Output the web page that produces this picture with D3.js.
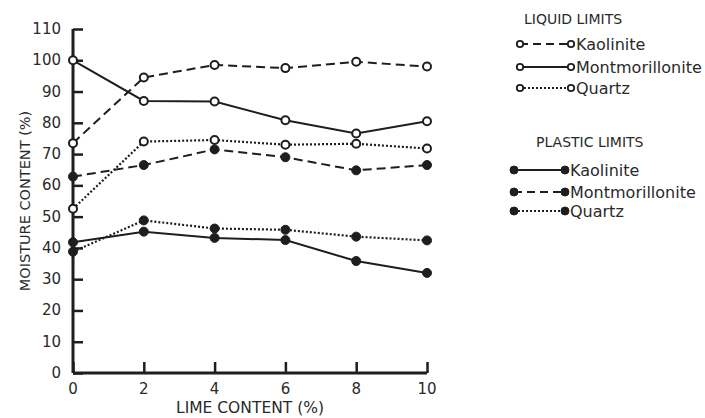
<!DOCTYPE html>
<html lang="en">
  <head>
    <meta charset="UTF-8" />
    <title>Moisture content vs lime content</title>
    <script src="https://d3js.org/d3.v7.min.js"></script>
    <style>
      body { margin: 0; background: #fff; }
      text { font-family: "DejaVu Sans", sans-serif; fill: #2a2a2a; }
    </style>
  </head>
  <body>
    <script>
      const width = 705;
      const height = 418;

      // data
      const limeContent = [0, 2, 4, 6, 8, 10];
      const liquidKaolinite = [73.5, 94.5, 98.5, 97.5, 99.5, 98];
      const liquidMontmorillonite = [100, 87, 86.8, 80.8, 76.6, 80.5];
      const liquidQuartz = [52.5, 74, 74.5, 73, 73.3, 71.8];
      const plasticKaolinite = [41.8, 45.2, 43.2, 42.5, 35.8, 32];
      const plasticMontmorillonite = [62.8, 66.5, 71.5, 69, 64.8, 66.5];
      const plasticQuartz = [38.8, 48.8, 46.2, 45.8, 43.6, 42.4];
      const xTicks = [0, 2, 4, 6, 8, 10];
      const yTicks = [0, 10, 20, 30, 40, 50, 60, 70, 80, 90, 100, 110];

      const series = [
        { name: "Kaolinite", group: "liquid", values: liquidKaolinite, dash: "9,5", filled: false },
        { name: "Montmorillonite", group: "liquid", values: liquidMontmorillonite, dash: null, filled: false },
        { name: "Quartz", group: "liquid", values: liquidQuartz, dash: "2,2", filled: false },
        { name: "Kaolinite", group: "plastic", values: plasticKaolinite, dash: null, filled: true },
        { name: "Montmorillonite", group: "plastic", values: plasticMontmorillonite, dash: "9,5", filled: true },
        { name: "Quartz", group: "plastic", values: plasticQuartz, dash: "2,2", filled: true }
      ];

      const ink = "#1e1e1e";
      const svg = d3.select("body").append("svg")
        .attr("width", width)
        .attr("height", height);

      const x = d3.scaleLinear().domain([0, 10]).range([73, 427]);
      const y = d3.scaleLinear().domain([0, 110]).range([373, 29]);

      // axes
      const g = svg.append("g");
      g.append("g")
        .attr("transform", `translate(0,${y(0)})`)
        .call(d3.axisTop(x).tickValues(xTicks).tickSize(11).tickFormat(""))
        .call(a => a.select(".domain").remove())
        .call(a => a.selectAll("line").attr("stroke", ink).attr("stroke-width", 2.5));
      g.append("g")
        .attr("transform", `translate(${x(0)},0)`)
        .call(d3.axisRight(y).tickValues(yTicks).tickSize(10).tickFormat(""))
        .call(a => a.select(".domain").remove())
        .call(a => a.selectAll("line").attr("stroke", ink).attr("stroke-width", 2.5));
      g.append("line")
        .attr("x1", x(0)).attr("x2", x(10))
        .attr("y1", y(0)).attr("y2", y(0))
        .attr("stroke", ink).attr("stroke-width", 3);
      g.append("line")
        .attr("x1", x(0)).attr("x2", x(0))
        .attr("y1", y(110)).attr("y2", y(0))
        .attr("stroke", ink).attr("stroke-width", 3);

      g.selectAll(".xl").data(xTicks).join("text")
        .attr("x", d => x(d)).attr("y", y(0) + 21)
        .attr("text-anchor", "middle")
        .style("font-size", "15px")
        .text(d => d);
      g.selectAll(".yl").data(yTicks).join("text")
        .attr("x", 61).attr("y", d => y(d) + 5)
        .attr("text-anchor", "end")
        .style("font-size", "15px")
        .text(d => d);

      svg.append("text")
        .attr("x", 250).attr("y", 413)
        .attr("text-anchor", "middle")
        .style("font-size", "15.5px")
        .text("LIME CONTENT (%)");
      svg.append("text")
        .attr("transform", `translate(30,${y(55)}) rotate(-90)`)
        .attr("text-anchor", "middle")
        .style("font-size", "14.5px")
        .text("MOISTURE CONTENT (%)");

      // lines and markers
      const line = d3.line()
        .x((d, i) => x(limeContent[i]))
        .y(d => y(d));

      series.forEach(s => {
        svg.append("path")
          .datum(s.values)
          .attr("d", line)
          .attr("fill", "none")
          .attr("stroke", ink)
          .attr("stroke-width", s.dash === "2,2" ? 2.2 : 2)
          .attr("stroke-dasharray", s.dash);
        svg.selectAll(null).data(s.values).join("circle")
          .attr("cx", (d, i) => x(limeContent[i]))
          .attr("cy", d => y(d))
          .attr("r", s.filled ? 4.5 : 4)
          .attr("fill", s.filled ? ink : "#fff")
          .attr("stroke", ink)
          .attr("stroke-width", s.filled ? 1 : 2);
      });

      // legend
      const legend = svg.append("g");
      const legendLayout = {
        liquid: { title: "LIQUID LIMITS", tx: 524, ty: 24, x1: 520, x2: 571, rows: [44, 67, 88] },
        plastic: { title: "PLASTIC LIMITS", tx: 536, ty: 147, x1: 514, x2: 565, rows: [170, 192, 211] }
      };
      ["liquid", "plastic"].forEach(grp => {
        const L = legendLayout[grp];
        legend.append("text")
          .attr("x", L.tx).attr("y", L.ty)
          .style("font-size", "14px")
          .text(L.title);
        series.filter(s => s.group === grp).forEach((s, i) => {
          const yy = L.rows[i];
          legend.append("line")
            .attr("x1", L.x1).attr("x2", L.x2)
            .attr("y1", yy).attr("y2", yy)
            .attr("stroke", ink).attr("stroke-width", 2)
            .attr("stroke-dasharray", s.dash === "9,5" ? "8,5" : s.dash);
          [L.x1, L.x2].forEach(cx => {
            legend.append("circle")
              .attr("cx", cx).attr("cy", yy)
              .attr("r", s.filled ? 4 : 3.2)
              .attr("fill", s.filled ? ink : "#fff")
              .attr("stroke", ink)
              .attr("stroke-width", s.filled ? 1 : 1.8);
          });
          legend.append("text")
            .attr("x", L.x2 + 5).attr("y", yy + 6)
            .style("font-size", "16px")
            .text(s.name);
        });
      });
    </script>
  </body>
</html>
